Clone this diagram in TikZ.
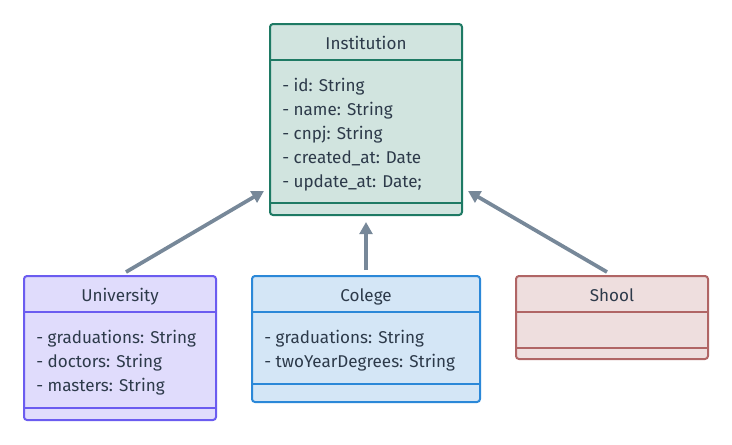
\documentclass[tikz,border=0pt]{standalone}
\usepackage{fontspec}
\setmainfont{Fira Sans}
\usetikzlibrary{arrows.meta}
\definecolor{txt}{HTML}{2D3A4A}
\definecolor{instF}{HTML}{D1E4DF}
\definecolor{instD}{HTML}{1E7A64}
\definecolor{uniF}{HTML}{E0DCFC}
\definecolor{uniD}{HTML}{6B5CF0}
\definecolor{colF}{HTML}{D4E6F6}
\definecolor{colD}{HTML}{2B88D8}
\definecolor{shoF}{HTML}{EEDEDE}
\definecolor{shoD}{HTML}{B06565}
\definecolor{arr}{HTML}{778899}
\begin{document}
\begin{tikzpicture}[x=0.75pt,y=-0.75pt,
  classbox/.style={rounded corners=2.25pt, line width=1.5pt},
  divline/.style={line width=1.5pt},
  title/.style={text=txt, font=\fontsize{12.8pt}{14pt}\selectfont, inner sep=0pt, anchor=base, yshift=-5.6pt},
  attr/.style={text=txt, font=\fontsize{12.8pt}{14pt}\selectfont, inner sep=0pt, anchor=base west, yshift=-5.6pt},
  inherit/.style={draw=arr, line width=2.8pt, -{Triangle[length=9pt,width=9.5pt]}}]
\useasboundingbox (0,0) rectangle (732,444);
% Institution
\draw[classbox, fill=instF, draw=instD] (270,24) rectangle (462,215);
\draw[divline, draw=instD] (270,60) -- (462,60);
\draw[divline, draw=instD] (270,203) -- (462,203);
\node[title] (instT) at (366,42) {Institution};
\node[attr] (i1) at (282,84) {- id: String};
\node[attr] (i2) at (282,108) {- name: String};
\node[attr] (i3) at (282,132) {- cnpj: String};
\node[attr] (i4) at (282,156) {- created\_at: Date};
\node[attr] (i5) at (282,180) {- update\_at: Date;};
% University
\draw[classbox, fill=uniF, draw=uniD] (24,276) rectangle (216,420);
\draw[divline, draw=uniD] (24,312) -- (216,312);
\draw[divline, draw=uniD] (24,408) -- (216,408);
\node[title] (uniT) at (120,294) {University};
\node[attr] (u1) at (36,336) {- graduations: String};
\node[attr] (u2) at (36,360) {- doctors: String};
\node[attr] (u3) at (36,384) {- masters: String};
% Colege
\draw[classbox, fill=colF, draw=colD] (252,276) rectangle (480,402);
\draw[divline, draw=colD] (252,312) -- (480,312);
\draw[divline, draw=colD] (252,384) -- (480,384);
\node[title] (colT) at (366,294) {Colege};
\node[attr] (c1) at (264,336) {- graduations: String};
\node[attr] (c2) at (264,360) {- twoYearDegrees: String};
% Shool
\draw[classbox, fill=shoF, draw=shoD] (516,276) rectangle (708,359);
\draw[divline, draw=shoD] (516,312) -- (708,312);
\draw[divline, draw=shoD] (516,348) -- (708,348);
\node[title] (shoT) at (612,294) {Shool};
% connector endpoints
\coordinate (uS) at (126,272);
\coordinate (uE) at (264,191);
\coordinate (cS) at (366,270);
\coordinate (cE) at (366,222);
\coordinate (sS) at (607,272);
\coordinate (sE) at (468,191);
\draw[inherit] (uS) -- (uE);
\draw[inherit] (cS) -- (cE);
\draw[inherit] (sS) -- (sE);
\end{tikzpicture}
\end{document}
